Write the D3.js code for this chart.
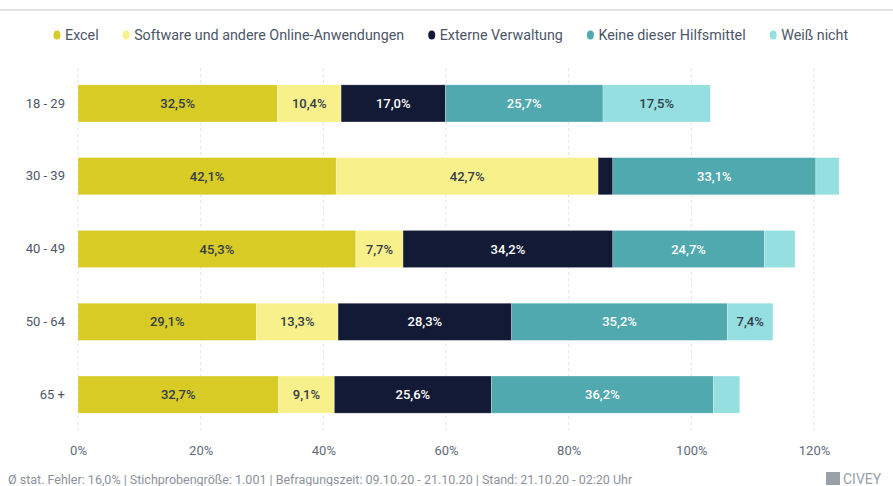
<!DOCTYPE html>
<html>
<head>
<meta charset="utf-8">
<script src="https://cdn.jsdelivr.net/npm/d3@7"></script>
<style>
  body { margin: 0; background: #fff; font-family: Roboto, "Noto Sans", sans-serif; }
  svg { display: block; }
</style>
</head>
<body>
<div id="chart"></div>
<script>
// Altersgruppen und Antworten
var groups = ['18 - 29', '30 - 39', '40 - 49', '50 - 64', '65 +']
var series = ['Excel', 'Software und andere Online-Anwendungen', 'Externe Verwaltung', 'Keine dieser Hilfsmittel', 'Weiß nicht']
var excel    = [32.5, 42.1, 45.3, 29.1, 32.7]
var software = [10.4, 42.7, 7.7, 13.3, 9.1]
var extern   = [17.0, 2.4, 34.2, 28.3, 25.6]
var keine    = [25.7, 33.1, 24.7, 35.2, 36.2]
var weiss    = [17.5, 3.8, 5.0, 7.4, 4.3]
var ticks = [0, 20, 40, 60, 80, 100, 120]
var colors = ['#d8cb25', '#f8f08a', '#131a35', '#4fa9ae', '#95dfe0']
var labelColors = ['#333c4a', '#333c4a', '#ffffff', '#ffffff', '#333c4a']

var data = groups.map((g, i) => ({
  name: g, Excel: excel[i], 'Software und andere Online-Anwendungen': software[i],
  'Externe Verwaltung': extern[i], 'Keine dieser Hilfsmittel': keine[i], 'Weiß nicht': weiss[i]
}))

var W = 893, H = 486
var margin = {left: 78, right: 79, top: 67, bottom: 55}

var svg = d3.select('#chart').append('svg').attr('width', W).attr('height', H)

// obere Trennlinie
svg.append('rect').attr('x', 0).attr('y', 9).attr('width', W).attr('height', 2).attr('fill', '#e4e4e4')

var x = d3.scaleLinear().domain([0, 120]).range([margin.left, margin.left + 736])
var y = d3.scaleBand().domain(groups).range([margin.top, H - margin.bottom]).paddingInner(0.49).paddingOuter(0.245)

// Gitterlinien
svg.append('g').selectAll('line').data(ticks).enter().append('line')
  .attr('x1', d => x(d)).attr('x2', d => x(d))
  .attr('y1', 68).attr('y2', 430)
  .attr('stroke', '#e3e3e3').attr('stroke-dasharray', '3,3')

var xAxis = svg.append('g').attr('transform', 'translate(0,' + 443 + ')')
  .call(d3.axisBottom(x).tickValues(ticks).tickFormat(d => d + '%').tickSize(0))
xAxis.select('.domain').remove()
xAxis.selectAll('text').attr('fill', '#5f6b7c').style('font-size', '13px').style('font-family', 'Roboto')

var yAxis = svg.append('g').attr('transform', 'translate(65,0)')
  .call(d3.axisLeft(y).tickSize(0).tickPadding(0))
yAxis.select('.domain').remove()
yAxis.selectAll('text').attr('fill', '#4c5667').style('font-size', '13px').style('font-family', 'Roboto')

var stack = d3.stack().keys(series)(data)

var layer = svg.selectAll('.layer').data(stack).enter().append('g').attr('class', 'layer')
  .attr('fill', (d, i) => colors[i])

layer.selectAll('rect').data(d => d).enter().append('rect')
  .attr('x', d => x(d[0]))
  .attr('y', d => y(d.data.name))
  .attr('width', d => x(d[1]) - x(d[0]))
  .attr('height', y.bandwidth())
  .attr('stroke', '#ffffff').attr('stroke-opacity', 0.35).attr('stroke-width', 0.7)

layer.each(function(s, i) {
  d3.select(this).selectAll('text').data(s.filter(d => d[1] - d[0] >= 7)).enter().append('text')
    .attr('x', d => (x(d[0]) + x(d[1])) / 2)
    .attr('y', d => y(d.data.name) + y.bandwidth() / 2)
    .attr('dy', '0.35em')
    .attr('text-anchor', 'middle')
    .attr('fill', labelColors[i])
    .style('font-size', '13px').style('font-weight', 500)
    .text(d => d3.format('.1f')(d[1] - d[0]).replace('.', ',') + '%')
})

// Legende
var legend = svg.append('g').attr('transform', 'translate(0,35)')
var lx = 57
series.forEach((s, i) => {
  var g = legend.append('g').attr('transform', 'translate(' + lx + ',0)')
  g.append('ellipse').attr('cx', 0).attr('cy', 0).attr('rx', 3.5).attr('ry', 4.5).attr('fill', colors[i])
  var t = g.append('text').attr('x', 8).attr('dy', '0.35em').attr('fill', '#4c5667')
    .style('font-size', '14.3px').text(s)
  lx += 8 + t.node().getComputedTextLength() + 27.5
})

// Fußzeile
svg.append('text').attr('x', 8).attr('y', 484).attr('fill', '#8b929c').style('font-size', '12.5px')
  .text('Ø stat. Fehler: 16,0% | Stichprobengröße: 1.001 | Befragungszeit: 09.10.20 - 21.10.20 | Stand: 21.10.20 - 02:20 Uhr')

var logo = svg.append('g').attr('transform', 'translate(826,472)')
logo.append('rect').attr('width', 14).attr('height', 13).attr('fill', '#9aa0a8')
logo.append('text').attr('x', 17).attr('y', 12).attr('fill', '#9aa0a8').style('font-size', '14px').text('CIVEY')
</script>
</body>
</html>
